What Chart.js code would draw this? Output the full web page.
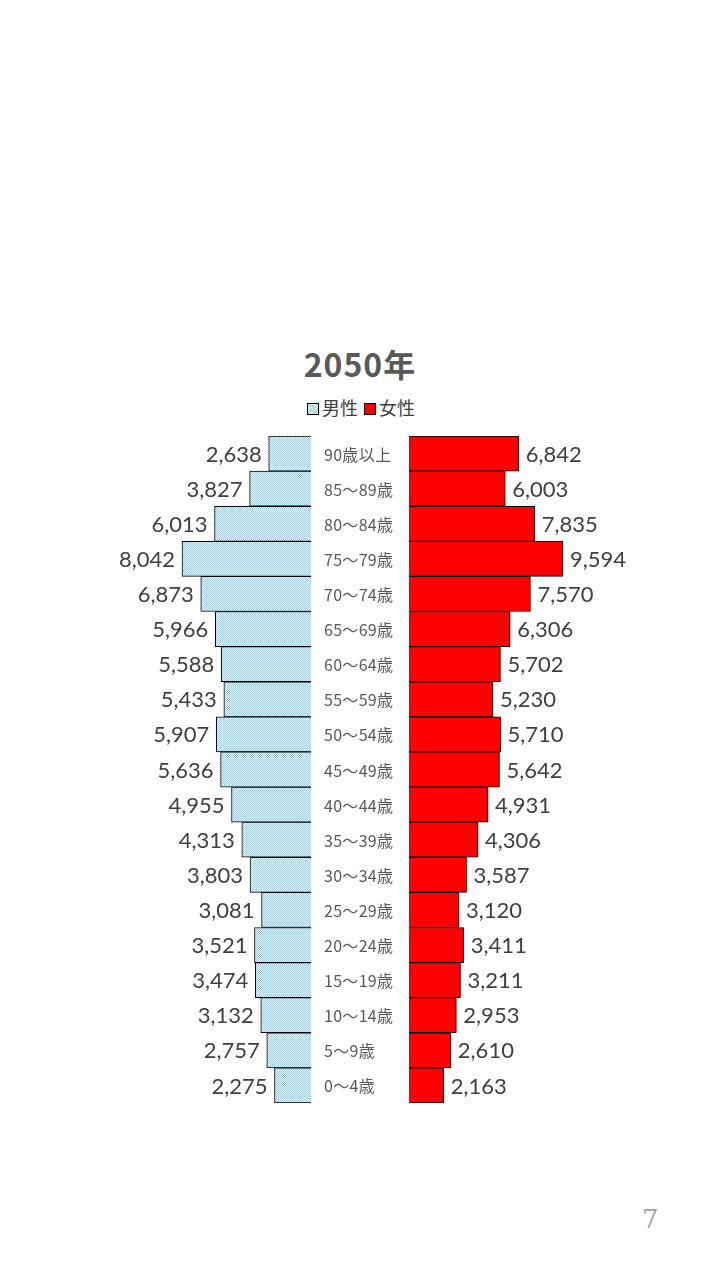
<!DOCTYPE html>
<html>
<head>
<meta charset="utf-8">
<script src="https://cdn.jsdelivr.net/npm/chart.js@4"></script>
<style>
  body { margin: 0; width: 720px; height: 1280px; background: #fff; position: relative; font-family: "Noto Sans CJK JP", sans-serif; overflow: hidden; }
  .abs { position: absolute; }
  #title { left: 0; width: 720px; top: 340px; text-align: center; font-size: 32px; font-weight: bold; color: #595959; letter-spacing: 1px; }
  #legend { left: 0; width: 720px; top: 394px; text-align: center; font-size: 18px; color: #404040; }
  .sw { display: inline-block; width: 10px; height: 10px; border: 1px solid #000; vertical-align: 0px; margin: 0 3px 0 2px; }
  .cat { left: 318px; width: 92px; font-size: 16px; color: #595959; text-align: left; padding-left: 6px; letter-spacing: 0.3px; }
  #page { left: 642px; top: 1204px; font-size: 26px; color: #a6a6a6; font-family: "DejaVu Serif", serif; }
</style>
</head>
<body>
<div id="title" class="abs">2050年</div>
<div id="legend" class="abs"><span class="sw" id="swM"></span>男性 <span class="sw" style="background:#ff0000"></span>女性</div>
<canvas id="male" class="abs" style="left:0;top:436px"></canvas>
<canvas id="female" class="abs" style="left:409px;top:436px"></canvas>
<div id="cats"></div>
<div id="page" class="abs">7</div>
<script>
// Age groups, top to bottom
const ageGroups = ["90歳以上", "85～89歳", "80～84歳", "75～79歳", "70～74歳", "65～69歳", "60～64歳",
  "55～59歳", "50～54歳", "45～49歳", "40～44歳", "35～39歳", "30～34歳", "25～29歳", "20～24歳",
  "15～19歳", "10～14歳", "5～9歳", "0～4歳"];
const maleValues = [2638, 3827, 6013, 8042, 6873, 5966, 5588, 5433, 5907, 5636, 4955, 4313, 3803, 3081, 3521, 3474, 3132, 2757, 2275];
const femaleValues = [6842, 6003, 7835, 9594, 7570, 6306, 5702, 5230, 5710, 5642, 4931, 4306, 3587, 3120, 3411, 3211, 2953, 2610, 2163];

const W = 311, H = 667, AXIS_MAX = 19390;

// dotted light-blue fill for male bars
function dotPattern() {
  const c = document.createElement("canvas");
  c.width = 2; c.height = 2;
  const g = c.getContext("2d");
  g.fillStyle = "#f2fbff"; g.fillRect(0, 0, 2, 2);
  g.fillStyle = "#8fd0f0"; g.fillRect(0, 0, 1, 1); g.fillRect(1, 1, 1, 1);
  return g.createPattern(c, "repeat");
}
const malePat = dotPattern();
document.getElementById("swM").style.background = "repeating-conic-gradient(#8fd0f0 0 25%, #f2fbff 0 50%) 0 0/2px 2px";

// category labels in the middle
const rowH = H / ageGroups.length;
ageGroups.forEach((a, i) => {
  const d = document.createElement("div");
  d.className = "abs cat";
  d.style.top = (436 + i * rowH + rowH / 2 - 12) + "px";
  d.textContent = a;
  document.getElementById("cats").appendChild(d);
});

const valueLabels = {
  id: "valueLabels",
  afterDatasetsDraw(chart, args, opts) {
    const ctx = chart.ctx;
    const meta = chart.getDatasetMeta(0);
    ctx.save();
    ctx.font = "22px Lato, sans-serif";
    ctx.fillStyle = "#404040";
    ctx.textBaseline = "middle";
    ctx.textAlign = opts.left ? "right" : "left";
    meta.data.forEach((bar, i) => {
      const v = chart.data.datasets[0].data[i].toLocaleString("en-US");
      ctx.fillText(v, bar.x + (opts.left ? -7 : 7), bar.y + 1);
    });
    ctx.restore();
  }
};

function makeChart(id, values, fill, left) {
  const cv = document.getElementById(id);
  cv.style.width = W + "px"; cv.style.height = H + "px";
  return new Chart(cv, {
    type: "bar",
    data: {
      labels: ageGroups,
      datasets: [{ data: values, backgroundColor: fill, borderColor: "#000", borderWidth: 1,
        barPercentage: 1, categoryPercentage: 1 }]
    },
    options: {
      indexAxis: "y",
      responsive: false,
      animation: false,
      layout: { padding: 0 },
      plugins: { legend: { display: false }, tooltip: { enabled: false }, valueLabels: { left: left } },
      scales: {
        x: { display: false, min: 0, max: AXIS_MAX, reverse: left },
        y: { display: false }
      }
    },
    plugins: [valueLabels]
  });
}

document.getElementById("male").width = W; document.getElementById("male").height = H;
document.getElementById("female").width = W; document.getElementById("female").height = H;
makeChart("male", maleValues, malePat, true);
makeChart("female", femaleValues, "#ff0000", false);
</script>
</body>
</html>
